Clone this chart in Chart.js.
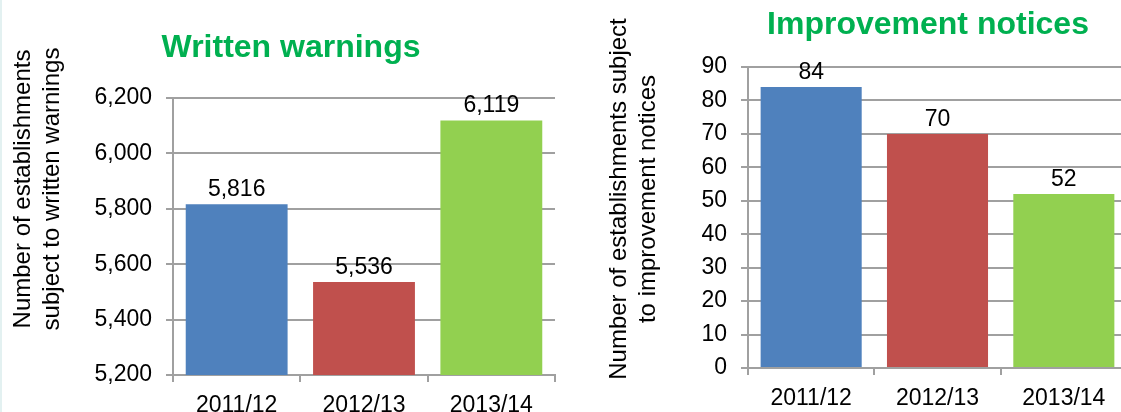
<!DOCTYPE html>
<html>
<head>
<meta charset="utf-8">
<script src="https://cdn.jsdelivr.net/npm/chart.js@4"></script>
<style>
  html, body { margin: 0; padding: 0; background: #fff; width: 1121px; height: 412px; overflow: hidden; }
  canvas { position: absolute; top: 0; }
  #warnings { left: 0; }
  #notices { left: 560px; }
  .edge { position: absolute; left: 0; top: 0; width: 2px; height: 412px; background: #e3f1f1; }
</style>
</head>
<body>
<canvas id="warnings" width="560" height="412"></canvas>
<canvas id="notices" width="575" height="412"></canvas>
<div class="edge"></div>
<script>
// data
const years = ['2011/12', '2012/13', '2013/14'];
const warningCounts = [5816, 5536, 6119];
const noticeCounts = [84, 70, 52];
const warningAxis = [5200, 6200, 200];   // min, max, step
const noticeAxis = [0, 90, 10];

const FONT = '"Liberation Sans", Arial, sans-serif';
const GRID = '#a0a0a0';
const barColors = ['#4F81BD', '#C0504D', '#92D050'];

function fmt(v) { return Number(v).toLocaleString('en-US'); }

// headings, rotated axis titles and value labels
const sheetText = {
    id: 'sheetText',
    afterDatasetsDraw(chart, args, o) {
        const ctx = chart.ctx;
        ctx.save();
        ctx.fillStyle = '#000';
        ctx.font = '23px ' + FONT;
        ctx.textAlign = 'center';
        ctx.textBaseline = 'alphabetic';
        const values = chart.data.datasets[0].data;
        chart.getDatasetMeta(0).data.forEach((bar, i) => {
            ctx.fillText(fmt(values[i]), bar.x, bar.y - 8);
        });

        ctx.font = 'bold 32px ' + FONT;
        ctx.fillStyle = '#00B050';
        ctx.fillText(o.title, o.titleX, o.titleY);

        ctx.fillStyle = '#000';
        ctx.font = '24px ' + FONT;
        ctx.textBaseline = 'middle';
        o.yTitle.forEach((line, k) => {
            ctx.save();
            ctx.translate(o.yTitleX[k], o.yTitleY);
            ctx.rotate(-Math.PI / 2);
            ctx.fillText(line, 0, 0);
            ctx.restore();
        });
        ctx.restore();
    }
};

function barChart(id, values, axis, opts) {
    return new Chart(document.getElementById(id), {
        type: 'bar',
        data: {
            labels: years,
            datasets: [{
                data: values,
                backgroundColor: barColors,
                categoryPercentage: 1,
                barPercentage: 0.8
            }]
        },
        plugins: [sheetText],
        options: {
            responsive: false,
            animation: false,
            devicePixelRatio: 1,
            layout: { padding: { top: opts.top, right: opts.right, left: 0, bottom: 0 } },
            plugins: {
                legend: { display: false },
                tooltip: { enabled: false },
                sheetText: {
                    title: opts.title,
                    titleX: opts.titleX,
                    titleY: opts.titleY,
                    yTitle: opts.yTitle,
                    yTitleX: opts.yTitleX,
                    yTitleY: opts.yTitleY
                }
            },
            scales: {
                x: {
                    grid: { drawOnChartArea: false, color: GRID, lineWidth: 2, tickLength: 7 },
                    border: { color: GRID, width: 2 },
                    ticks: { color: '#000', font: { family: FONT, size: 23 }, padding: 10 },
                    afterFit: s => { s.height = opts.xHeight; }
                },
                y: {
                    min: axis[0],
                    max: axis[1],
                    ticks: {
                        stepSize: axis[2],
                        color: '#000',
                        font: { family: FONT, size: 23 },
                        padding: 14,
                        callback: v => fmt(v)
                    },
                    grid: { color: GRID, lineWidth: 2, tickLength: 7 },
                    border: { color: GRID, width: 2 },
                    afterFit: s => { s.width = opts.yWidth; }
                }
            }
        }
    });
}

barChart('warnings', warningCounts, warningAxis, {
    top: 98, right: 5, yWidth: 173, xHeight: 37,
    title: 'Written warnings', titleX: 291, titleY: 57,
    yTitle: ['Number of establishments', 'subject to written warnings'],
    yTitleX: [23, 52], yTitleY: 189
});

barChart('notices', noticeCounts, noticeAxis, {
    top: 67, right: 8, yWidth: 188, xHeight: 44,
    title: 'Improvement notices', titleX: 368, titleY: 34,
    yTitle: ['Number of establishments subject', 'to improvement notices'],
    yTitleX: [59, 88], yTitleY: 199
});
</script>
</body>
</html>
